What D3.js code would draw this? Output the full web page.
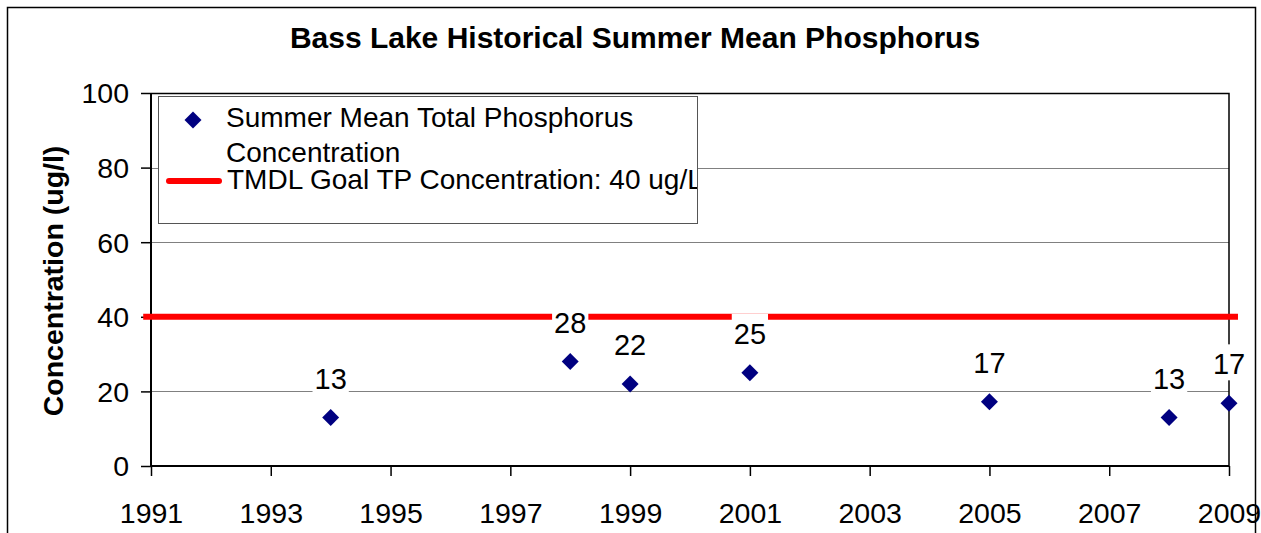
<!DOCTYPE html>
<html>
<head>
<meta charset="utf-8">
<script src="https://cdn.jsdelivr.net/npm/d3@7"></script>
<style>
  body { margin: 0; background: #fff; }
  svg text { font-family: "Liberation Sans", Arial, sans-serif; }
</style>
</head>
<body>
<div id="chart"></div>
<script>
// data
const years = [1994, 1998, 1999, 2001, 2005, 2008, 2009];
const tpMean = [13, 28, 22, 25, 17.2, 13, 16.8];
const goalYears = [1990.87, 2009.15];
const goalValue = [40, 40];
const xTicks = [1991, 1993, 1995, 1997, 1999, 2001, 2003, 2005, 2007, 2009];
const yTicks = [0, 20, 40, 60, 80, 100];
const title = "Bass Lake Historical Summer Mean Phosphorus";
const yTitle = "Concentration (ug/l)";
const legendLabels = ["Summer Mean Total Phosphorus", "Concentration", "TMDL Goal TP Concentration: 40 ug/L"];

const width = 1261, height = 533;
const margins = {top: 93, left: 151, right: 32, bottom: 67};
const bodyW = width - margins.left - margins.right;
const bodyH = height - margins.top - margins.bottom;

const svg = d3.select("#chart").append("svg")
    .attr("width", width)
    .attr("height", height);

// outer chart border (bottom runs off the picture)
svg.append("path")
    .attr("d", `M7.5,${height + 5}V7.5H1255.5V${height + 5}`)
    .attr("fill", "none")
    .attr("stroke", "#000")
    .attr("stroke-width", 1.5);

svg.append("text")
    .attr("x", 635).attr("y", 48)
    .attr("text-anchor", "middle")
    .attr("font-weight", "bold")
    .attr("font-size", 30)
    .text(title);

const x = d3.scaleLinear().domain([1991, 2009]).range([0, bodyW]);
const y = d3.scaleLinear().domain([0, 100]).range([bodyH, 0]);

const body = svg.append("g")
    .attr("transform", `translate(${margins.left},${margins.top})`);

// gridlines
body.append("g").selectAll("line")
    .data(yTicks.filter(d => d > 0 && d < 100))
    .join("line")
    .attr("x1", 0).attr("x2", bodyW)
    .attr("y1", d => Math.round(y(d)) + 0.5).attr("y2", d => Math.round(y(d)) + 0.5)
    .attr("stroke", "#808080");

// plot frame top + right
body.append("path")
    .attr("d", `M0,0.5H${bodyW}V${bodyH}`)
    .attr("fill", "none")
    .attr("stroke", "#000")
    .attr("stroke-width", 1.5);

// axes
const xAxis = body.append("g")
    .attr("transform", `translate(0,${bodyH})`)
    .call(d3.axisBottom(x).tickValues(xTicks).tickFormat(d3.format("d")).tickSize(10));
const yAxis = body.append("g")
    .call(d3.axisLeft(y).tickValues(yTicks).tickSize(10).tickPadding(12));

[xAxis, yAxis].forEach(a => {
    a.select(".domain").attr("stroke", "#000").attr("stroke-width", 2);
    a.selectAll(".tick line").attr("stroke", "#000").attr("stroke-width", 1.5);
    a.selectAll(".tick text")
        .attr("font-family", "Liberation Sans, Arial, sans-serif")
        .attr("font-size", 28.5)
        .attr("fill", "#000");
});
xAxis.select(".domain").attr("d", `M0,0H${bodyW}`);
yAxis.select(".domain").attr("d", `M0,0V${bodyH}`);
xAxis.selectAll(".tick text").attr("y", 57).attr("dy", 0);
yAxis.selectAll(".tick text").attr("dy", "0.35em");

svg.append("text")
    .attr("transform", `translate(63,281) rotate(-90)`)
    .attr("text-anchor", "middle")
    .attr("font-weight", "bold")
    .attr("font-size", 28.5)
    .text(yTitle);

// goal line
const line = d3.line().x(d => x(d[0])).y(d => y(d[1]));
body.append("path")
    .datum(d3.zip(goalYears, goalValue))
    .attr("d", line)
    .attr("stroke", "#ff0000")
    .attr("stroke-width", 6)
    .attr("fill", "none");

// data labels on white boxes
const labels = body.append("g").selectAll("g")
    .data(d3.zip(years, tpMean))
    .join("g")
    .attr("transform", d => `translate(${x(d[0])},${y(d[1]) - 29})`);
labels.append("text")
    .attr("text-anchor", "middle")
    .attr("font-size", 29)
    .text(d => d3.format(".0f")(d[1]));
labels.insert("rect", "text")
    .each(function() {
        const b = this.parentNode.querySelector("text").getBBox();
        d3.select(this)
            .attr("x", b.x - 2).attr("y", b.y - 4)
            .attr("width", b.width + 4).attr("height", b.height + 4);
    })
    .attr("fill", "#fff");

// markers
const diamond = d3.symbol().type(d3.symbolSquare).size(144);
body.append("g").selectAll("path")
    .data(d3.zip(years, tpMean))
    .join("path")
    .attr("d", diamond)
    .attr("transform", d => `translate(${x(d[0])},${y(d[1])}) rotate(45)`)
    .attr("fill", "#000080");

// legend
svg.append("defs").append("clipPath")
    .attr("id", "legend-clip")
    .append("rect")
    .attr("width", 539).attr("height", 128);
const legend = svg.append("g").attr("transform", "translate(158,96)");
legend.append("rect")
    .attr("x", 0.5).attr("y", 0.5)
    .attr("width", 539).attr("height", 127)
    .attr("fill", "#fff")
    .attr("stroke", "#555");
legend.append("path")
    .attr("d", diamond)
    .attr("transform", "translate(35,24) rotate(45)")
    .attr("fill", "#000080");
legend.append("line")
    .attr("x1", 11).attr("x2", 61)
    .attr("y1", 85).attr("y2", 85)
    .attr("stroke", "#ff0000")
    .attr("stroke-width", 6)
    .attr("stroke-linecap", "round");
legend.append("g")
    .attr("clip-path", "url(#legend-clip)")
    .selectAll("text")
    .data(legendLabels)
    .join("text")
    .attr("x", (d, i) => i < 2 ? 68 : 69)
    .attr("y", (d, i) => [31, 66, 93][i])
    .attr("font-size", 28)
    .text(d => d);
</script>
</body>
</html>
